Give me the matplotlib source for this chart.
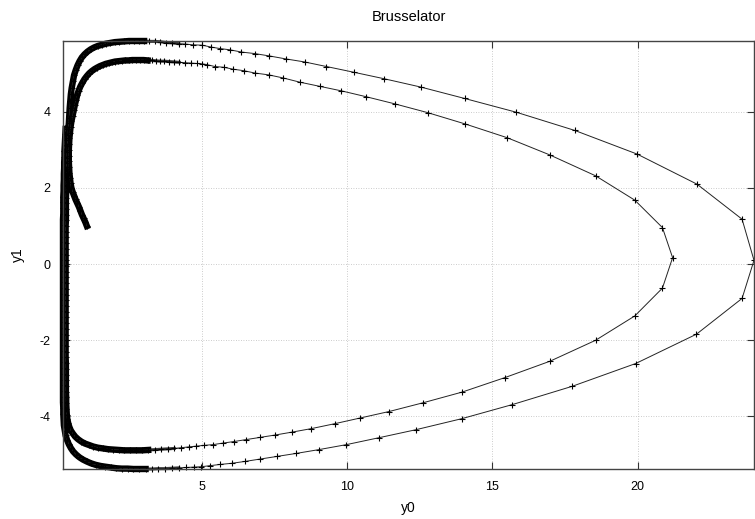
import matplotlib
matplotlib.use("Agg")
import matplotlib.pyplot as plt
import numpy as np

# trajectory, in time order, as (y0, y1) pairs
rise_a = [(1.05, 1.00), (1.00, 1.10), (0.94, 1.20), (0.88, 1.30), (0.83, 1.40),
          (0.78, 1.50), (0.72, 1.60), (0.66, 1.70), (0.61, 1.80), (0.56, 1.90),
          (0.52, 2.00), (0.49, 2.12), (0.47, 2.25), (0.45, 2.40), (0.44, 2.55),
          (0.43, 2.70), (0.43, 2.85), (0.43, 3.00), (0.44, 3.15), (0.45, 3.30),
          (0.47, 3.45), (0.49, 3.60), (0.52, 3.75), (0.56, 3.90)]

inner_top = [(0.60, 4.05), (0.64, 4.19), (0.68, 4.32), (0.72, 4.44), (0.77, 4.56),
             (0.83, 4.67), (0.90, 4.77), (0.97, 4.86), (1.05, 4.94), (1.13, 5.01),
             (1.22, 5.07), (1.31, 5.12), (1.40, 5.16), (1.50, 5.20), (1.60, 5.23),
             (1.70, 5.26), (1.80, 5.28), (1.91, 5.30), (2.02, 5.32), (2.13, 5.33),
             (2.25, 5.34), (2.37, 5.35), (2.49, 5.35), (2.61, 5.36), (2.74, 5.36),
             (2.87, 5.36), (3.00, 5.36), (3.14, 5.35), (3.28, 5.35), (3.42, 5.34),
             (3.57, 5.33), (3.72, 5.33), (3.88, 5.32), (4.05, 5.31), (4.23, 5.30),
             (4.42, 5.29), (4.62, 5.28), (4.83, 5.27), (5.02, 5.26), (5.18, 5.24),
             (5.45, 5.19), (5.76, 5.17), (6.08, 5.12), (6.45, 5.08), (6.82, 5.02),
             (7.31, 4.97), (7.80, 4.89), (8.37, 4.78), (9.06, 4.67), (9.81, 4.55),
             (10.64, 4.40), (11.64, 4.21), (12.77, 3.98), (14.07, 3.68), (15.51, 3.32),
             (16.97, 2.87), (18.55, 2.32), (19.90, 1.68), (20.85, 0.96), (21.20, 0.17)]

inner_bottom = [(20.85, -0.63), (19.90, -1.36), (18.55, -2.00), (16.98, -2.55),
                (15.43, -2.98), (13.96, -3.36), (12.62, -3.64), (11.45, -3.87),
                (10.46, -4.04), (9.58, -4.19), (8.77, -4.32), (8.12, -4.41),
                (7.51, -4.49), (7.00, -4.55), (6.51, -4.61), (6.10, -4.66),
                (5.73, -4.70), (5.39, -4.74), (5.07, -4.76), (4.80, -4.78),
                (4.55, -4.80), (4.30, -4.82), (4.06, -4.84), (3.83, -4.85),
                (3.60, -4.86), (3.38, -4.87), (3.16, -4.88), (2.95, -4.89),
                (2.74, -4.89), (2.54, -4.89), (2.34, -4.89), (2.15, -4.88),
                (1.96, -4.87), (1.78, -4.86), (1.60, -4.84), (1.43, -4.82),
                (1.27, -4.79), (1.12, -4.75), (0.98, -4.71), (0.86, -4.66),
                (0.75, -4.60), (0.65, -4.53), (0.57, -4.45), (0.50, -4.37),
                (0.45, -4.28), (0.41, -4.18), (0.38, -4.07), (0.36, -3.95)]

rise_b = [(0.35, -3.80), (0.34, -3.65), (0.34, -3.50), (0.33, -3.35), (0.33, -3.20),
          (0.33, -3.05), (0.33, -2.90), (0.33, -2.75), (0.33, -2.60), (0.32, -2.45),
          (0.32, -2.30), (0.32, -2.15), (0.32, -2.00), (0.32, -1.85), (0.32, -1.70),
          (0.32, -1.55), (0.32, -1.40), (0.32, -1.25), (0.32, -1.10), (0.32, -0.95),
          (0.32, -0.80), (0.32, -0.65), (0.32, -0.50), (0.32, -0.35), (0.32, -0.20),
          (0.32, -0.05), (0.32, 0.10), (0.32, 0.25), (0.32, 0.40), (0.32, 0.55),
          (0.32, 0.70), (0.32, 0.85), (0.32, 1.00), (0.33, 1.15), (0.33, 1.30),
          (0.33, 1.45), (0.33, 1.60), (0.33, 1.75), (0.34, 1.90), (0.34, 2.05),
          (0.34, 2.20), (0.35, 2.35), (0.35, 2.50), (0.36, 2.65), (0.36, 2.80),
          (0.37, 2.95), (0.38, 3.10), (0.39, 3.25), (0.40, 3.40), (0.41, 3.55),
          (0.43, 3.70), (0.44, 3.85)]

outer_top = [(0.46, 4.10), (0.48, 4.28), (0.50, 4.46), (0.53, 4.63), (0.57, 4.80),
             (0.61, 4.96), (0.67, 5.10), (0.73, 5.22), (0.80, 5.33), (0.88, 5.43),
             (0.97, 5.51), (1.07, 5.58), (1.18, 5.64), (1.30, 5.69), (1.43, 5.73),
             (1.57, 5.76), (1.71, 5.79), (1.86, 5.81), (2.01, 5.83), (2.17, 5.84),
             (2.33, 5.85), (2.50, 5.86), (2.67, 5.86), (2.84, 5.86), (3.02, 5.86),
             (3.20, 5.85), (3.39, 5.85), (3.58, 5.84), (3.78, 5.82), (3.99, 5.81),
             (4.21, 5.79), (4.44, 5.78), (4.69, 5.76), (5.02, 5.75), (5.33, 5.70),
             (5.64, 5.66), (5.96, 5.63), (6.37, 5.57), (6.82, 5.53), (7.31, 5.47),
             (7.89, 5.39), (8.54, 5.31), (9.29, 5.19), (10.23, 5.04), (11.27, 4.87),
             (12.54, 4.65), (14.05, 4.35), (15.82, 3.99), (17.84, 3.51), (19.98, 2.89),
             (22.04, 2.10), (23.59, 1.18), (24.00, 0.10)]

outer_bottom = [(23.59, -0.90), (22.02, -1.84), (19.93, -2.61), (17.74, -3.21),
                (15.68, -3.69), (13.94, -4.06), (12.36, -4.35), (11.09, -4.56),
                (9.98, -4.74), (9.04, -4.87), (8.26, -4.97), (7.59, -5.05),
                (7.00, -5.12), (6.50, -5.18), (6.04, -5.23), (5.64, -5.26),
                (5.30, -5.29), (4.99, -5.32), (4.72, -5.33), (4.46, -5.34),
                (4.21, -5.35), (3.97, -5.36), (3.74, -5.37), (3.51, -5.37),
                (3.29, -5.38), (3.07, -5.38), (2.86, -5.38), (2.65, -5.38),
                (2.45, -5.37), (2.25, -5.37), (2.06, -5.36), (1.87, -5.34),
                (1.69, -5.32), (1.52, -5.30), (1.35, -5.27), (1.19, -5.23),
                (1.04, -5.18), (0.91, -5.13), (0.79, -5.07), (0.68, -5.00),
                (0.58, -4.92), (0.50, -4.83), (0.43, -4.73), (0.37, -4.62),
                (0.32, -4.50), (0.29, -4.37), (0.26, -4.23), (0.25, -4.08)]

rise_c = [(0.24, -3.93), (0.24, -3.78), (0.23, -3.63), (0.23, -3.48), (0.23, -3.33),
          (0.23, -3.18), (0.23, -3.03), (0.23, -2.88), (0.23, -2.73), (0.23, -2.58),
          (0.23, -2.43), (0.23, -2.28), (0.23, -2.13), (0.23, -1.98), (0.23, -1.83),
          (0.23, -1.68), (0.23, -1.53), (0.23, -1.38), (0.23, -1.23), (0.23, -1.08),
          (0.23, -0.93), (0.23, -0.78), (0.23, -0.63), (0.23, -0.48), (0.23, -0.33),
          (0.23, -0.18), (0.23, -0.03), (0.23, 0.12), (0.23, 0.27), (0.23, 0.42),
          (0.23, 0.57), (0.23, 0.72), (0.23, 0.87), (0.23, 1.02), (0.23, 1.17),
          (0.24, 1.32), (0.24, 1.47), (0.24, 1.62), (0.24, 1.77), (0.25, 1.92),
          (0.25, 2.07), (0.26, 2.22), (0.26, 2.37), (0.27, 2.52), (0.27, 2.67),
          (0.28, 2.82), (0.28, 2.97), (0.29, 3.12), (0.30, 3.27), (0.31, 3.42),
          (0.32, 3.55)]

segments = [rise_a, inner_top, inner_bottom, rise_b, outer_top, outer_bottom, rise_c]
points = np.array([p for seg in segments for p in seg])
y0 = points[:, 0]
y1 = points[:, 1]

plt.rcParams['font.family'] = ['Liberation Sans', 'DejaVu Sans']
plt.rcParams['axes.unicode_minus'] = False

W, H = 755, 519
fig = plt.figure(figsize=(W / 100, H / 100), dpi=100)
ax = fig.add_axes([63 / W, 1 - 469 / H, (754 - 63) / W, (469 - 41) / H])

ax.set_xlim(y0.min(), y0.max())
ax.set_ylim(y1.min(), y1.max())

# where the solver crawls (small y0) the '+' marks pile up into a solid band
slowish = np.where(y0 < 4.3, y1, np.nan)
slow = np.where(y0 < 3.2, y1, np.nan)
ax.plot(y0, slowish, color='black', lw=2.2, alpha=0.75, clip_on=False)
ax.plot(y0, slow, color='black', lw=4.6, clip_on=False)
ax.plot(y0, y1, color='#222222', lw=0.7, marker='+', ms=5, mew=0.8, mec='black',
        clip_on=False)

ax.set_xticks([5, 10, 15, 20])
ax.set_yticks([-4, -2, 0, 2, 4])
ax.grid(True, color='#bbbbbb', linestyle=(0, (1, 2)), lw=0.6)
ax.tick_params(direction='in', top=True, right=True, length=5, width=0.8,
               color='#333333', labelsize=9, pad=9)
for s in ax.spines.values():
    s.set_color('#444444')
    s.set_linewidth(1.0)

fig.text(408.5 / W, 1 - 17 / H, 'Brusselator', ha='center', va='center', fontsize=10.5)
fig.text(408.5 / W, 1 - 508 / H, 'y0', ha='center', va='center', fontsize=10)
fig.text(18 / W, 1 - 255 / H, 'y1', ha='center', va='center', fontsize=10, rotation=90)

fig.savefig('out.png', dpi=100)
